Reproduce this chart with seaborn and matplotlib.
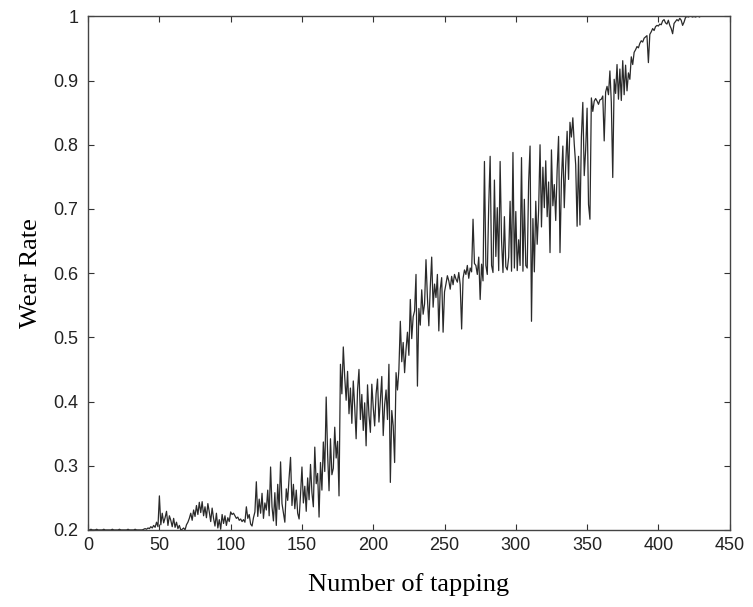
import numpy as np
import pandas as pd
import seaborn as sns
import matplotlib
matplotlib.use("Agg")
import matplotlib.pyplot as plt

# wear rate, one value per tapping (x = 0 .. 429)
wear_000_099 = [
    0.200, 0.200, 0.201, 0.200, 0.200, 0.200, 0.201, 0.200, 0.200, 0.200,
    0.200, 0.201, 0.200, 0.200, 0.200, 0.200, 0.200, 0.201, 0.200, 0.200,
    0.200, 0.200, 0.201, 0.200, 0.200, 0.200, 0.200, 0.200, 0.201, 0.200,
    0.200, 0.200, 0.200, 0.201, 0.200, 0.200, 0.200, 0.200, 0.200, 0.201,
    0.202, 0.201, 0.203, 0.202, 0.205, 0.203, 0.207, 0.204, 0.212, 0.205,
    0.253, 0.208, 0.226, 0.211, 0.219, 0.229, 0.207, 0.222, 0.215, 0.205,
    0.218, 0.204, 0.212, 0.202, 0.207, 0.200, 0.201, 0.203, 0.200, 0.208,
    0.212, 0.218, 0.226, 0.215, 0.231, 0.221, 0.238, 0.224, 0.243, 0.227,
    0.244, 0.222, 0.236, 0.219, 0.241, 0.228, 0.213, 0.234, 0.218, 0.206,
    0.226, 0.203, 0.216, 0.201, 0.224, 0.210, 0.222, 0.207, 0.219, 0.213,
]
wear_100_199 = [
    0.228, 0.224, 0.226, 0.222, 0.218, 0.220, 0.215, 0.217, 0.213, 0.216,
    0.212, 0.236, 0.218, 0.224, 0.209, 0.206, 0.219, 0.228, 0.275, 0.221,
    0.248, 0.226, 0.257, 0.218, 0.242, 0.231, 0.262, 0.222, 0.298, 0.236,
    0.214, 0.258, 0.207, 0.271, 0.232, 0.306, 0.241, 0.227, 0.212, 0.264,
    0.246, 0.282, 0.313, 0.238, 0.271, 0.233, 0.262, 0.226, 0.217, 0.255,
    0.298, 0.242, 0.268, 0.229, 0.281, 0.247, 0.302, 0.258, 0.236, 0.329,
    0.272, 0.288, 0.220, 0.305, 0.262, 0.337, 0.291, 0.407, 0.318, 0.261,
    0.342, 0.286, 0.296, 0.360, 0.312, 0.338, 0.253, 0.458, 0.412, 0.485,
    0.438, 0.402, 0.447, 0.381, 0.421, 0.366, 0.432, 0.392, 0.342, 0.418,
    0.450, 0.372, 0.411, 0.355, 0.398, 0.331, 0.426, 0.379, 0.352, 0.427,
]
wear_200_299 = [
    0.391, 0.362, 0.412, 0.435, 0.368, 0.402, 0.439, 0.347, 0.395, 0.418,
    0.372, 0.458, 0.274, 0.386, 0.362, 0.305, 0.445, 0.418, 0.450, 0.525,
    0.462, 0.492, 0.445, 0.481, 0.508, 0.472, 0.559, 0.498, 0.532, 0.541,
    0.598, 0.424, 0.545, 0.519, 0.574, 0.536, 0.552, 0.621, 0.562, 0.518,
    0.578, 0.625, 0.547, 0.583, 0.562, 0.598, 0.510, 0.575, 0.593, 0.508,
    0.571, 0.583, 0.596, 0.588, 0.575, 0.595, 0.582, 0.598, 0.591, 0.586,
    0.601, 0.582, 0.513, 0.592, 0.605, 0.598, 0.612, 0.592, 0.608, 0.602,
    0.684, 0.615, 0.612, 0.598, 0.625, 0.559, 0.614, 0.588, 0.774, 0.612,
    0.598, 0.705, 0.782, 0.612, 0.601, 0.745, 0.626, 0.702, 0.604, 0.774,
    0.651, 0.601, 0.688, 0.610, 0.605, 0.625, 0.712, 0.603, 0.788, 0.608,
]
wear_300_399 = [
    0.696, 0.604, 0.652, 0.612, 0.780, 0.603, 0.715, 0.612, 0.608, 0.742,
    0.798, 0.525, 0.685, 0.602, 0.712, 0.645, 0.698, 0.800, 0.672, 0.765,
    0.702, 0.775, 0.688, 0.742, 0.632, 0.792, 0.705, 0.738, 0.682, 0.761,
    0.813, 0.632, 0.745, 0.798, 0.702, 0.768, 0.821, 0.746, 0.835, 0.812,
    0.842, 0.801, 0.769, 0.673, 0.782, 0.675, 0.812, 0.866, 0.752, 0.792,
    0.857, 0.707, 0.684, 0.873, 0.852, 0.868, 0.872, 0.868, 0.863, 0.870,
    0.871, 0.876, 0.806, 0.882, 0.891, 0.878, 0.915, 0.866, 0.749, 0.902,
    0.880, 0.925, 0.871, 0.918, 0.869, 0.931, 0.878, 0.924, 0.884, 0.912,
    0.902, 0.937, 0.925, 0.944, 0.948, 0.953, 0.951, 0.958, 0.962, 0.960,
    0.966, 0.968, 0.970, 0.928, 0.972, 0.976, 0.981, 0.978, 0.984, 0.986,
]
wear_400_429 = [
    0.985, 0.988, 0.987, 0.993, 0.995, 0.990, 0.988, 0.994, 0.986, 0.981,
    0.973, 0.989, 0.992, 0.995, 0.993, 0.997, 0.994, 0.986, 0.991, 0.998,
    1.000, 0.999, 1.000, 1.000, 0.999, 1.000, 0.999, 1.000, 1.000, 0.999,
]

x_ticks = [0, 50, 100, 150, 200, 250, 300, 350, 400, 450]
y_ticks = [0.2, 0.3, 0.4, 0.5, 0.6, 0.7, 0.8, 0.9, 1.0]
y_ticklabels = ["0.2", "0.3", "0.4", "0.5", "0.6", "0.7", "0.8", "0.9", "1"]

wear = wear_000_099 + wear_100_199 + wear_200_299 + wear_300_399 + wear_400_429
df = pd.DataFrame({"tapping": np.arange(len(wear)), "wear": wear})

sns.set_theme(style="white")
plt.rcParams["font.family"] = ["Liberation Sans", "DejaVu Sans"]

fig = plt.figure(figsize=(7.53, 6.07), dpi=100)
ax = fig.add_axes([0.117, 0.127, 0.852, 0.846])

sns.lineplot(data=df, x="tapping", y="wear", estimator=None, color="#2a2a2a",
             linewidth=0.9, ax=ax)

ax.set_xlim(0, 450)
ax.set_ylim(0.2, 1.0)
ax.set_xticks(x_ticks)
ax.set_yticks(y_ticks)
ax.set_yticklabels(y_ticklabels)
ax.tick_params(direction="in", length=4, width=0.8, colors="#333333",
               labelsize=13, top=True, right=True, bottom=True, left=True,
               labelcolor="#222222")
ax.tick_params(axis="x", pad=5)
ax.tick_params(axis="y", pad=7)
for s in ax.spines.values():
    s.set_color("#444444")
    s.set_linewidth(1.0)

ax.set_xlabel("Number of tapping", family=["Liberation Serif"], fontsize=19,
              color="black", labelpad=14)
ax.set_ylabel("Wear Rate", family=["Liberation Serif"], fontsize=19,
              color="black", labelpad=8)

fig.savefig("out.png", dpi=100)
